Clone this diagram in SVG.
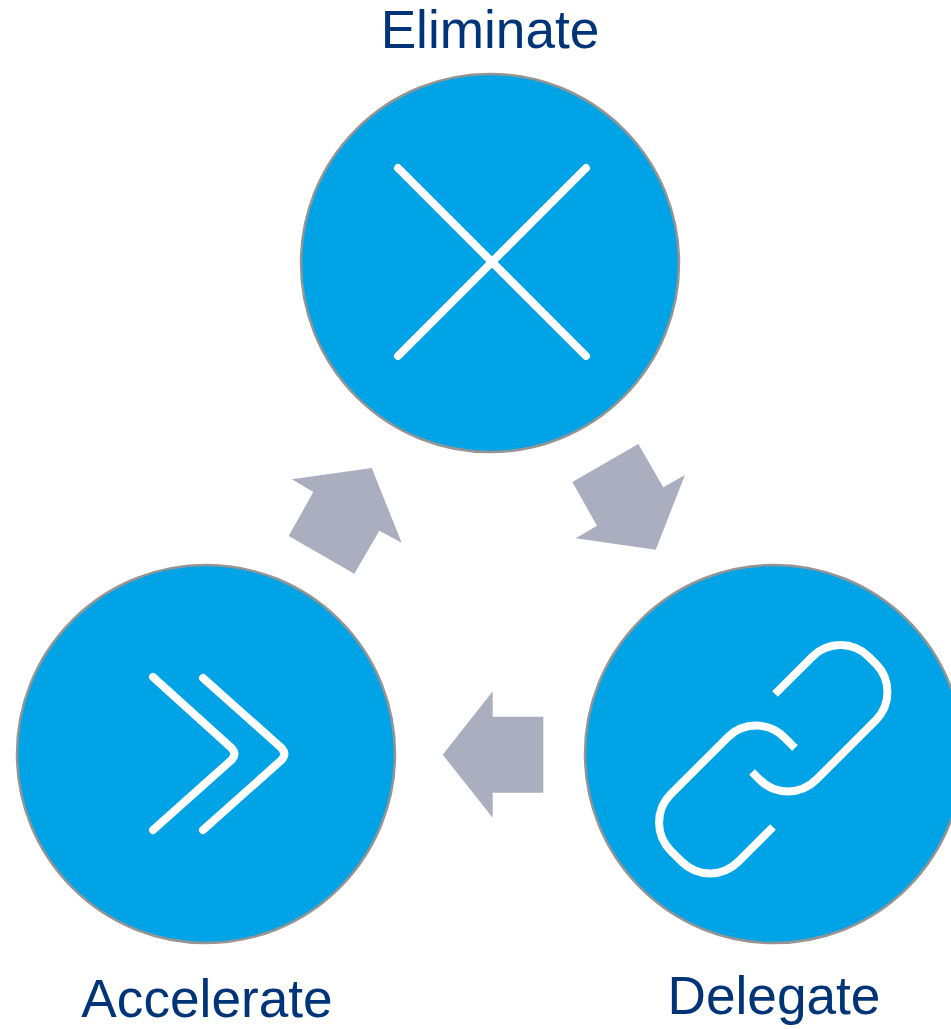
<svg xmlns="http://www.w3.org/2000/svg" width="951" height="1029" viewBox="0 0 951 1029">
<style>
.c{fill:#00a4e6;stroke:#949494;stroke-width:2.5}
.i{fill:none;stroke:#fff;stroke-width:8;stroke-linejoin:round}
.r{stroke-linecap:round}
.b{stroke-linecap:butt}
.a{fill:#abaebf}
text{font-family:"Liberation Sans",Arial,sans-serif;font-size:53.2px;fill:#003478;text-anchor:middle}
</style>
<rect width="951" height="1029" fill="#fff"/>
<g id="connectors">
<polygon class="a" points="292,479.3 371.7,468 401.7,542.7 379.3,530.7 354.3,573.7 288.7,536 313.3,492"/>
<polygon class="a" points="638.3,444 663.3,487.3 685,475 655.7,549.7 575.7,538.3 597,525.7 572.3,482"/>
<polygon class="a" points="442.7,754.7 492.7,691.3 492.7,716.7 543.3,716.7 543.3,792.7 492.7,792.7 492.7,817.7"/>
</g>
<g id="eliminate">
<circle class="c" cx="490" cy="263" r="189"/>
<path class="i r" d="M398 168L586 356M586 168L398 356"/>
<text x="490" y="48">Eliminate</text>
</g>
<g id="delegate">
<circle class="c" cx="774" cy="754" r="189"/>
<path class="i b" d="M775 694L812.2 656.8A40 40 0 0 1 868.8 656.8L875.7 663.7A40 40 0 0 1 875.7 720.3L816.3 779.7A40 40 0 0 1 759.7 779.7L752 772"/>
<path class="i b" d="M795 748L784.3 737.3A40 40 0 0 0 727.7 737.3L670.8 794.2A40 40 0 0 0 670.8 850.8L681.7 861.7A40 40 0 0 0 738.3 861.7L773 827"/>
<text x="774" y="1014">Delegate</text>
</g>
<g id="accelerate">
<circle class="c" cx="206" cy="754" r="189"/>
<path class="i r" d="M153 677L231.500 748Q237 754 231.500 760L153 830M203 678L281.500 748Q287 754 281.500 760L203 830"/>
<text x="207" y="1017">Accelerate</text>
</g>
</svg>
